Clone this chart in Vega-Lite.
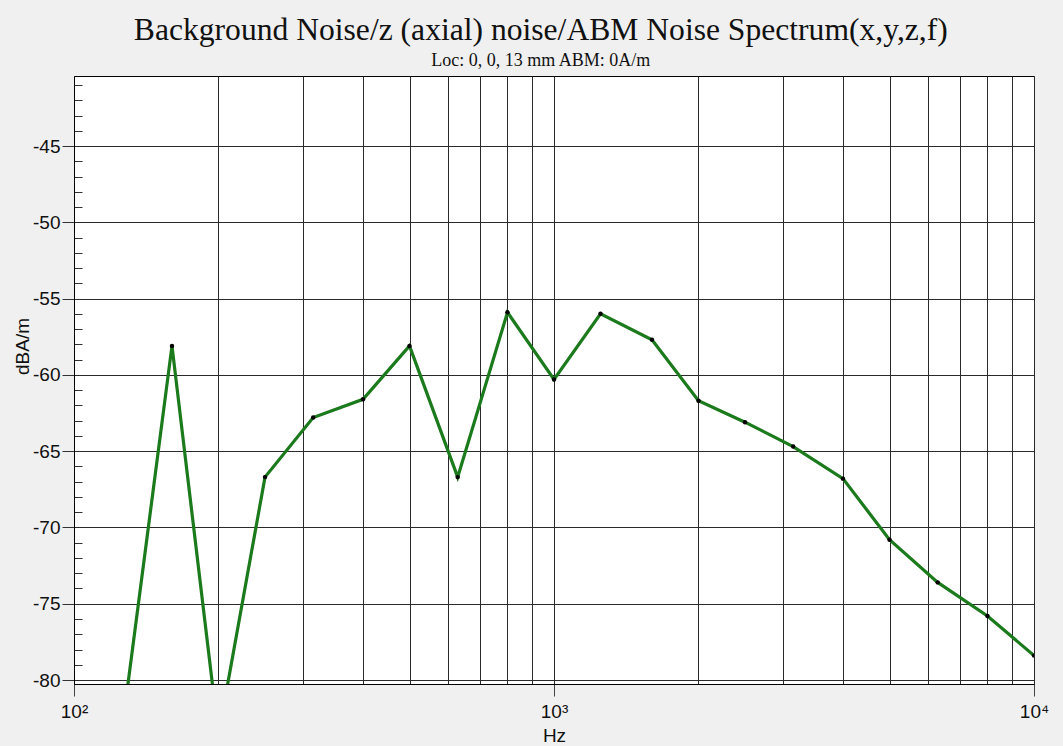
{
  "$schema": "https://vega.github.io/schema/vega-lite/v6.json",
  "autosize": "none",
  "width": 960,
  "height": 608,
  "padding": {"left": 74, "top": 76, "right": 29, "bottom": 62},
  "background": "#f0f0f0",
  "view": {"fill": "#ffffff", "stroke": "#000000", "strokeWidth": 1},
  "title": {
    "text": "Background Noise/z (axial) noise/ABM Noise Spectrum(x,y,z,f)",
    "subtitle": "Loc: 0, 0, 13 mm ABM: 0A/m\u00a0\u00a0\u00a0\u00a0\u00a0\u00a0\u00a0\u00a0",
    "anchor": "middle",
    "frame": "bounds",
    "font": "Liberation Serif",
    "fontSize": 31.6,
    "fontWeight": "normal",
    "color": "#111111",
    "subtitleFont": "Liberation Serif",
    "subtitleFontSize": 18,
    "subtitleColor": "#111111",
    "subtitlePadding": 5,
    "offset": 6,
    "dx": 10
  },
  "data": {
    "values": [
      {"f": 125, "v": -84.0},
      {"f": 160, "v": -58.1},
      {"f": 200, "v": -83.6},
      {"f": 250, "v": -66.7},
      {"f": 315, "v": -62.8},
      {"f": 400, "v": -61.6},
      {"f": 500, "v": -58.1},
      {"f": 630, "v": -66.7},
      {"f": 800, "v": -55.9},
      {"f": 1000, "v": -60.3},
      {"f": 1250, "v": -56.0},
      {"f": 1600, "v": -57.7},
      {"f": 2000, "v": -61.7},
      {"f": 2500, "v": -63.1},
      {"f": 3150, "v": -64.7},
      {"f": 4000, "v": -66.8},
      {"f": 5000, "v": -70.8},
      {"f": 6300, "v": -73.6},
      {"f": 8000, "v": -75.8},
      {"f": 10000, "v": -78.4}
    ]
  },
  "encoding": {
    "x": {
      "field": "f",
      "type": "quantitative",
      "scale": {"type": "log", "domain": [100, 10000], "nice": false},
      "axis": {
        "title": "Hz",
        "values": [100, 200, 300, 400, 500, 600, 700, 800, 900, 1000, 2000, 3000, 4000, 5000, 6000, 7000, 8000, 9000, 10000],
        "labelExpr": "datum.value === 100 ? '10²' : datum.value === 1000 ? '10³' : datum.value === 10000 ? '10⁴' : ''",
        "labelOverlap": false,
        "labelFlush": false,
        "labelFont": "Liberation Sans",
        "labelFontSize": 19,
        "labelColor": "#111111",
        "labelPadding": 6,
        "titleFont": "Liberation Sans",
        "titleFontSize": 19,
        "titleFontWeight": "normal",
        "titleColor": "#111111",
        "titlePadding": 5,
        "tickSize": 12,
        "tickColor": "#444444",
        "tickOpacity": {"condition": {"test": "datum.value === 100 || datum.value === 1000 || datum.value === 10000", "value": 1}, "value": 0},
        "grid": true,
        "gridColor": "#2a2a2a",
        "gridOpacity": 1,
        "gridWidth": 1,
        "domainColor": "#000000"
      }
    },
    "y": {
      "field": "v",
      "type": "quantitative",
      "scale": {"domain": [-80.26, -40.41], "nice": false, "zero": false},
      "axis": {
        "title": "dBA/m",
        "values": [-80, -79, -78, -77, -76, -75, -74, -73, -72, -71, -70, -69, -68, -67, -66, -65, -64, -63, -62, -61, -60, -59, -58, -57, -56, -55, -54, -53, -52, -51, -50, -49, -48, -47, -46, -45, -44, -43, -42, -41],
        "labelExpr": "datum.value % 5 === 0 ? '' + datum.value : ''",
        "labelOverlap": false,
        "labelFont": "Liberation Sans",
        "labelFontSize": 19,
        "labelColor": "#111111",
        "labelPadding": 2,
        "tickColor": "#333333",
        "tickSize": {"condition": {"test": "datum.value % 5 === 0", "value": 12}, "value": -8},
        "grid": true,
        "gridColor": "#2a2a2a",
        "gridWidth": 1,
        "gridOpacity": {"condition": {"test": "datum.value % 5 === 0", "value": 1}, "value": 0},
        "domainColor": "#000000",
        "titleFont": "Liberation Sans",
        "titleFontSize": 19,
        "titleFontWeight": "normal",
        "titleColor": "#111111",
        "titleX": -46,
        "titleY": 270,
        "titleBaseline": "alphabetic"
      }
    }
  },
  "layer": [
    {
      "mark": {"type": "line", "color": "#1b7a1b", "strokeWidth": 3.2, "clip": true}
    },
    {
      "mark": {"type": "point", "filled": true, "color": "#000000", "size": 20, "opacity": 1, "clip": true}
    }
  ]
}
